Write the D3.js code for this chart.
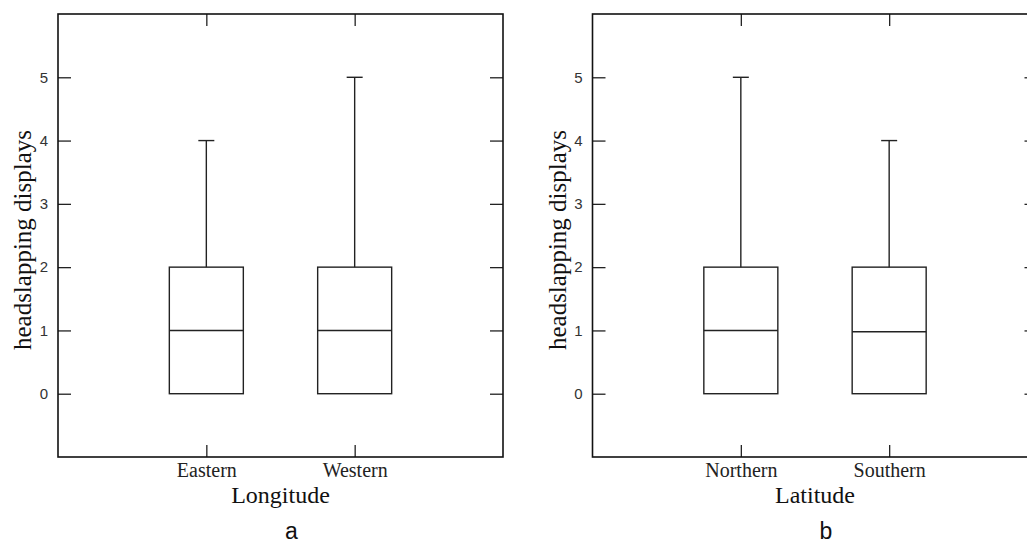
<!DOCTYPE html>
<html>
<head>
<meta charset="utf-8">
<script src="https://cdn.jsdelivr.net/npm/d3@7"></script>
<style>
  body { margin: 0; background: #fff; }
  .tickLabel text { font-family: "Liberation Sans", Arial, sans-serif; font-size: 15px; fill: #333; }
  .catLabel text { font-family: "Liberation Serif", "Times New Roman", serif; font-size: 20px; fill: #222; }
  .serif { font-family: "Liberation Serif", "Times New Roman", serif; fill: #111; }
</style>
</head>
<body>
<svg id="chart"></svg>
<script>
// data: [min, q1, median, q3, max]
const longitudeGroups = ["Eastern", "Western"];
const longitudeStats = [[0, 0, 1, 2, 4], [0, 0, 1, 2, 5]];
const latitudeGroups = ["Northern", "Southern"];
const latitudeStats = [[0, 0, 1, 2, 5], [0, 0, 0.98, 2, 4]];
const yTicks = [0, 1, 2, 3, 4, 5];
const axisTitles = ["Longitude", "Latitude"];
const panelLabels = ["a", "b"];
const yTitle = "headslapping displays";

const width = 1027, height = 546;
const svg = d3.select("#chart").attr("width", width).attr("height", height);

const panelW = 445, panelH = 443, panelTop = 14;
const panelLeft = [58, 592.5];
const tickLen = 13;
const boxW = 74, capW = 16;

const panels = [
  { groups: longitudeGroups, stats: longitudeStats },
  { groups: latitudeGroups, stats: latitudeStats }
];

const y = d3.scaleLinear().domain([-1, 6]).range([panelH, 0]);

panels.forEach((p, i) => {
  const g = svg.append("g").attr("transform", `translate(${panelLeft[i]},${panelTop})`);

  const x = d3.scalePoint().domain(p.groups).range([0, panelW]).padding(1);

  // left axis with labels, ticks pointing inward
  g.append("g").attr("class", "tickLabel")
    .call(d3.axisLeft(y).tickValues(yTicks).tickSize(-tickLen).tickPadding(10).tickFormat(d3.format("d")))
    .call(a => a.select(".domain").remove());

  // right axis, no labels
  g.append("g").attr("transform", `translate(${panelW},0)`)
    .call(d3.axisRight(y).tickValues(yTicks).tickSize(-tickLen).tickFormat(""))
    .call(a => a.select(".domain").remove());

  // bottom axis with category labels
  g.append("g").attr("class", "catLabel").attr("transform", `translate(0,${panelH})`)
    .call(d3.axisBottom(x).tickSize(-12).tickPadding(6))
    .call(a => a.select(".domain").remove());

  // top axis, no labels
  g.append("g")
    .call(d3.axisTop(x).tickSize(-12).tickFormat(""))
    .call(a => a.select(".domain").remove());

  g.selectAll(".tick line").attr("stroke", "#222").attr("stroke-width", 1.3);

  // frame
  g.append("rect")
    .attr("width", panelW).attr("height", panelH)
    .attr("fill", "none").attr("stroke", "#111").attr("stroke-width", 1.6);

  // boxes
  const boxes = g.selectAll(".box")
    .data(p.groups.map((k, j) => ({ key: k, s: p.stats[j] })))
    .join("g").attr("class", "box")
    .attr("transform", d => `translate(${x(d.key)},0)`);

  boxes.append("line")
    .attr("y1", d => y(d.s[3])).attr("y2", d => y(d.s[4]))
    .attr("stroke", "#222").attr("stroke-width", 1.4);
  boxes.append("line")
    .attr("x1", -capW / 2).attr("x2", capW / 2)
    .attr("y1", d => y(d.s[4])).attr("y2", d => y(d.s[4]))
    .attr("stroke", "#222").attr("stroke-width", 1.4);
  boxes.append("line")
    .attr("y1", d => y(d.s[1])).attr("y2", d => y(d.s[0]))
    .attr("stroke", "#222").attr("stroke-width", 1.4);
  boxes.append("rect")
    .attr("x", -boxW / 2).attr("width", boxW)
    .attr("y", d => y(d.s[3])).attr("height", d => y(d.s[1]) - y(d.s[3]))
    .attr("fill", "none").attr("stroke", "#222").attr("stroke-width", 1.4);
  boxes.append("line")
    .attr("x1", -boxW / 2).attr("x2", boxW / 2)
    .attr("y1", d => y(d.s[2])).attr("y2", d => y(d.s[2]))
    .attr("stroke", "#222").attr("stroke-width", 1.4);

  // titles
  g.append("text").attr("class", "serif")
    .attr("transform", `translate(${-27},${226}) rotate(-90)`)
    .attr("text-anchor", "middle").attr("font-size", 25)
    .text(yTitle);

  g.append("text").attr("class", "serif")
    .attr("x", panelW / 2).attr("y", panelH + 46)
    .attr("text-anchor", "middle").attr("font-size", 24)
    .text(axisTitles[i]);

  g.append("text")
    .attr("x", panelW / 2 + 11).attr("y", panelH + 82)
    .attr("text-anchor", "middle").attr("font-size", 23)
    .attr("font-family", "'Liberation Sans', Arial, sans-serif").attr("fill", "#111")
    .text(panelLabels[i]);
});
</script>
</body>
</html>
